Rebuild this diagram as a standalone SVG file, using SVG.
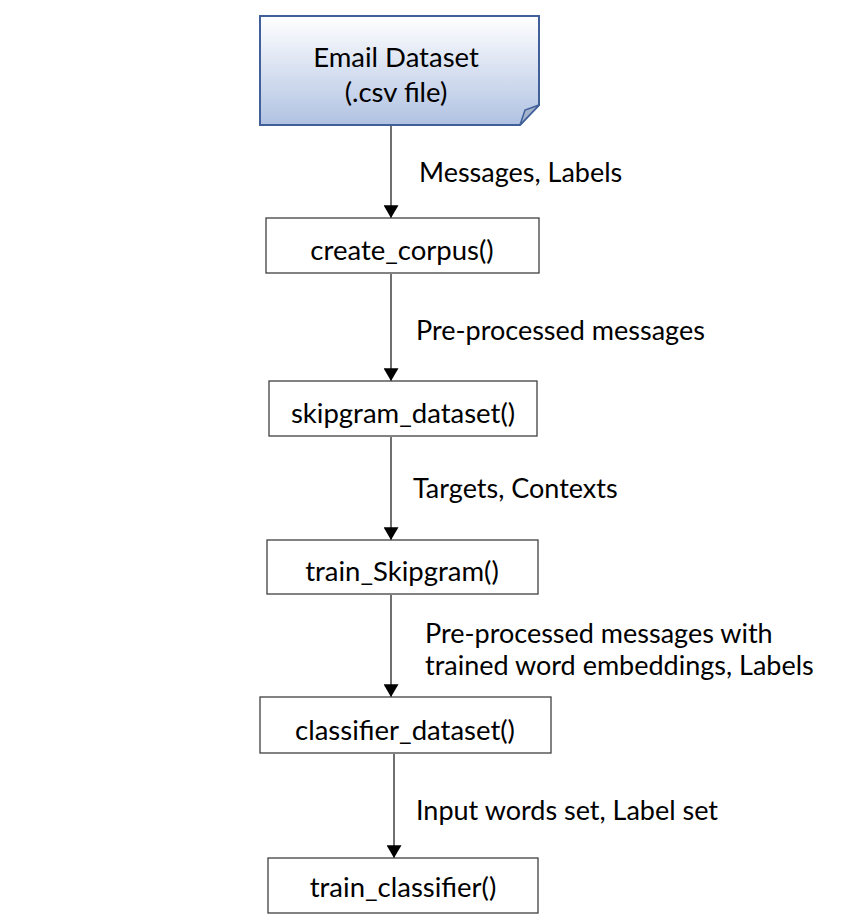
<svg xmlns="http://www.w3.org/2000/svg" width="844" height="924" viewBox="0 0 844 924">
<defs>
<linearGradient id="docfill" x1="0" y1="0" x2="0" y2="1">
<stop offset="0" stop-color="#ffffff"/>
<stop offset="1" stop-color="#b0c2e2"/>
</linearGradient>
<marker id="arrow" viewBox="0 0 12 14" refX="12" refY="7" markerWidth="13" markerHeight="15" orient="auto" markerUnits="userSpaceOnUse">
<path d="M0,0 L12,7 L0,14 Z" fill="#000"/>
</marker>
<style>
.box{fill:#fff;stroke:#404040;stroke-width:1.3}
.t{font-family:Lato,"Open Sans",sans-serif;font-size:27.5px;fill:#000;text-anchor:middle}
.lbl{font-family:Lato,"Open Sans",sans-serif;font-size:27px;fill:#000}
.conn{stroke:#404040;stroke-width:1.5;fill:none;marker-end:url(#arrow)}
</style>
</defs>
<rect width="844" height="924" fill="#fff"/>
<g id="connectors">
<line class="conn" x1="391" y1="126" x2="391" y2="218"/>
<line class="conn" x1="391" y1="274" x2="391" y2="381"/>
<line class="conn" x1="391" y1="437" x2="391" y2="540"/>
<line class="conn" x1="391" y1="595" x2="391" y2="697"/>
<line class="conn" x1="394" y1="754" x2="394" y2="858"/>
<text class="lbl" x="419" y="182">Messages, Labels</text>
<text class="lbl" x="416" y="340">Pre-processed messages</text>
<text class="lbl" x="413" y="498">Targets, Contexts</text>
<text class="lbl" x="425" y="643">Pre-processed messages with</text>
<text class="lbl" x="425" y="675">trained word embeddings, Labels</text>
<text class="lbl" x="416" y="820">Input words set, Label set</text>
</g>
<g id="email-dataset">
<path d="M260,16 H539 V105 L520,125 H260 Z" fill="url(#docfill)" stroke="#41609a" stroke-width="2"/>
<path d="M520,125 L525,110 L539,105 Z" fill="#a4b2cc" stroke="#41609a" stroke-width="1.5"/>
<text class="t" x="396" y="67">Email Dataset</text>
<text class="t" x="396" y="102">(.csv file)</text>
</g>
<g id="create-corpus">
<rect class="box" x="266" y="218" width="273" height="55"/>
<text class="t" x="402" y="260">create_corpus()</text>
</g>
<g id="skipgram-dataset">
<rect class="box" x="269" y="381" width="268" height="55"/>
<text class="t" x="403" y="423">skipgram_dataset()</text>
</g>
<g id="train-skipgram">
<rect class="box" x="267" y="540" width="271" height="54"/>
<text class="t" x="402" y="581">train_Skipgram()</text>
</g>
<g id="classifier-dataset">
<rect class="box" x="260" y="697" width="291" height="56"/>
<text class="t" x="405" y="740">classifier_dataset()</text>
</g>
<g id="train-classifier">
<rect class="box" x="268" y="858" width="270" height="55"/>
<text class="t" x="403" y="897">train_classifier()</text>
</g>
</svg>
